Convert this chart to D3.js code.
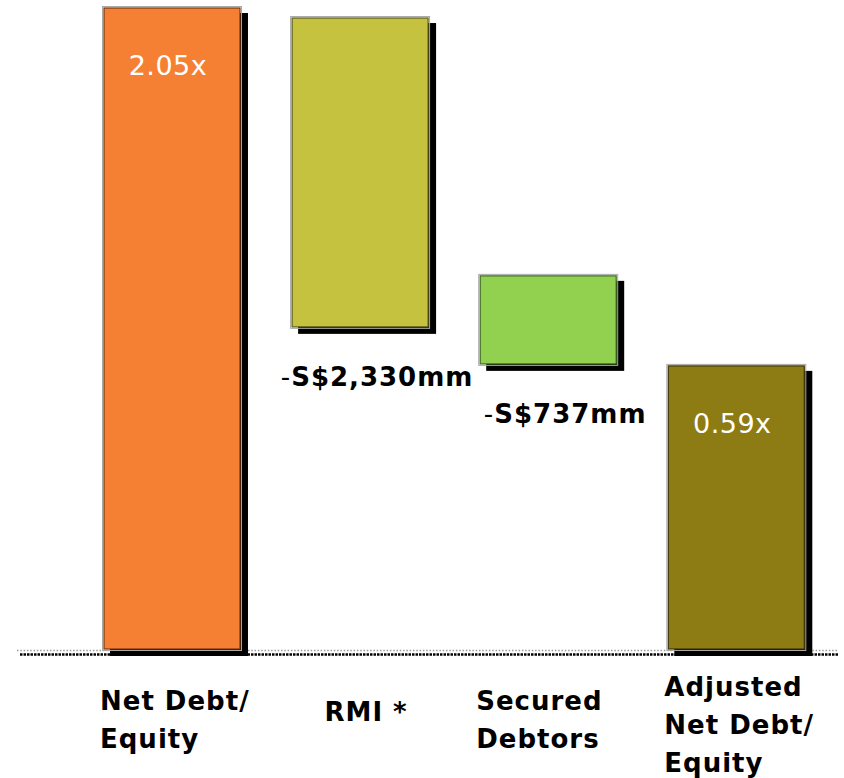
<!DOCTYPE html>
<html>
<head>
<meta charset="utf-8">
<script src="https://cdn.jsdelivr.net/npm/d3@7"></script>
<style>
  html, body { margin: 0; padding: 0; background: #ffffff; }
  svg { display: block; }
</style>
</head>
<body>
<svg id="chart" width="844" height="778"></svg>
<script>
// ---- data (visual levels, top bar = 2.05x) ----
const categories = ["Net Debt/ Equity", "RMI *", "Secured Debtors", "Adjusted Net Debt/ Equity"];
const axisLabelLines = [["Net Debt/", "Equity"], ["RMI *"], ["Secured", "Debtors"], ["Adjusted", "Net Debt/", "Equity"]];
const barStart = [0, 1.027, 0.909, 0];
const barEnd   = [2.05, 2.018, 1.196, 0.909];
const barLabels = ["2.05x", "-S$2,330mm", "-S$737mm", "0.59x"];
const labelInside = [true, false, false, true];
const barColors = ["#F58033", "#C4C23F", "#92D050", "#8C7C13"];
const barEdges  = ["#7A3A10", "#5E5C1C", "#3F6A22", "#3E360A"];

const svg = d3.select("#chart");
const baseY = 650;

const y = d3.scaleLinear().domain([0, 2.05]).range([baseY, 7]);
const x = d3.scaleBand().domain(categories)
  .range([103, 805.3]).paddingInner(0.2665).paddingOuter(0);

const bars = categories.map((c, i) => ({
  cat: c, i, lo: barStart[i], hi: barEnd[i], label: barLabels[i],
  inside: labelInside[i], color: barColors[i], edge: barEdges[i], lines: axisLabelLines[i]
}));

const font = "'DejaVu Sans', Verdana, sans-serif";
const sdx = 7, sdy = 6;

// baseline (drawn twice: light dotted + dark dotted shadow)
svg.append("line")
  .attr("x1", 17).attr("x2", 838).attr("y1", baseY + 0.5).attr("y2", baseY + 0.5)
  .attr("stroke", "#9a9a9a").attr("stroke-width", 1.5).attr("stroke-dasharray", "1.5,1.8");
svg.append("line")
  .attr("x1", 20).attr("x2", 838).attr("y1", baseY + 4.5).attr("y2", baseY + 4.5)
  .attr("stroke", "#000").attr("stroke-width", 2.5).attr("stroke-dasharray", "2.5,1");

const g = svg.append("g");

// shadows
g.selectAll("rect.shadow").data(bars).join("rect")
  .attr("class", "shadow")
  .attr("x", d => x(d.cat) + sdx)
  .attr("y", d => y(d.hi) + sdy)
  .attr("width", x.bandwidth())
  .attr("height", d => y(d.lo) - y(d.hi))
  .attr("fill", "#000");

// outer light edge
g.selectAll("rect.outer").data(bars).join("rect")
  .attr("class", "outer")
  .attr("x", d => x(d.cat) - 0.5)
  .attr("y", d => y(d.hi) - 0.5)
  .attr("width", x.bandwidth() + 1)
  .attr("height", d => y(d.lo) - y(d.hi) + 1)
  .attr("fill", "none").attr("stroke", "#a8a8a8").attr("stroke-width", 1);

// bars
g.selectAll("rect.bar").data(bars).join("rect")
  .attr("class", "bar")
  .attr("x", d => x(d.cat) + 1)
  .attr("y", d => y(d.hi) + 1)
  .attr("width", x.bandwidth() - 2)
  .attr("height", d => y(d.lo) - y(d.hi) - 2)
  .attr("fill", d => d.color).attr("stroke", d => d.edge).attr("stroke-width", 1.2);

// value labels
const vl = g.selectAll("text.val").data(bars).join("text")
  .attr("class", "val")
  .attr("font-family", font)
  .attr("text-anchor", "middle")
  .attr("x", d => x(d.cat) + x.bandwidth() / 2 + (d.inside ? -4 : 17))
  .attr("y", d => d.inside ? y(d.hi) + 68 : y(d.lo) + 58)
  .attr("fill", d => d.inside ? "#ffffff" : "#000000")
  .attr("font-size", d => d.inside ? 27 : 26)
  .attr("font-weight", d => d.inside ? "normal" : "bold")
  .attr("letter-spacing", d => d.inside ? 0.5 : 1);

vl.each(function(d) {
  const t = d3.select(this);
  if (!d.inside && d.label.startsWith("-")) {
    t.append("tspan").attr("font-weight", "normal").text("-");
    t.append("tspan").text(d.label.slice(1));
  } else {
    t.text(d.label);
  }
});

// category labels: multi-line blocks left-aligned near the bar, single line centred
const lineH = 38;
const catG = g.selectAll("g.cat").data(bars).join("g").attr("class", "cat");
catG.each(function(d) {
  const grp = d3.select(this);
  const n = d.lines.length;
  const firstBase = n === 1 ? 721 : (n === 2 ? 710 : 696);
  const txt = grp.append("text")
    .attr("font-family", font).attr("font-weight", "bold")
    .attr("font-size", 26).attr("letter-spacing", 1).attr("fill", "#000");
  d.lines.forEach((ln, k) => {
    txt.append("tspan").attr("x", 0).attr("y", firstBase + k * lineH).text(ln);
  });
  const w = txt.node().getBBox().width;
  const left = n === 1 ? x(d.cat) + x.bandwidth() / 2 - w / 2 + 6 : x(d.cat) - 3;
  grp.attr("transform", `translate(${left},0)`);
});
</script>
</body>
</html>
